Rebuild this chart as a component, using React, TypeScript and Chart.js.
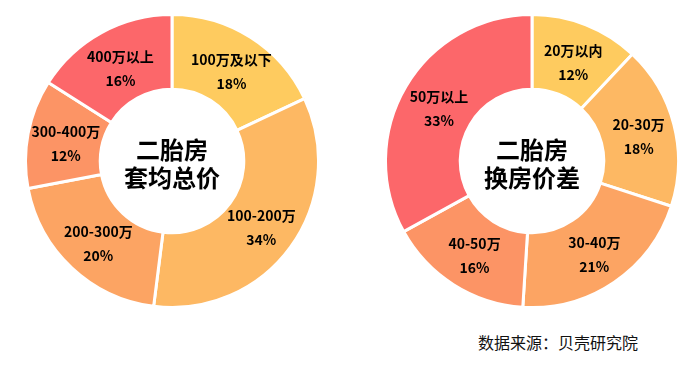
import React, { useEffect, useRef } from "react";
import { Chart, registerables } from "chart.js";

Chart.register(...registerables);

const leftCategories = ["100万及以下", "100-200万", "200-300万", "300-400万", "400万以上"];
const leftValues = [18, 34, 20, 12, 16];
const leftCenter = ["二胎房", "套均总价"];

const rightCategories = ["20万以内", "20-30万", "30-40万", "40-50万", "50万以上"];
const rightValues = [12, 18, 21, 16, 33];
const rightCenter = ["二胎房", "换房价差"];

const palette = ["#FECB5F", "#FDB863", "#FCA463", "#FC9465", "#FC676A"];
const sourceText = "数据来源：贝壳研究院";

const FONT = "'Noto Sans CJK SC', 'Noto Sans', sans-serif";

function makeLabelPlugin(center: string[]) {
  return {
    id: "donutLabels",
    afterDatasetsDraw(chart: any) {
      const ctx = chart.ctx;
      const meta = chart.getDatasetMeta(0);
      const labels = chart.data.labels as string[];
      const values = chart.data.datasets[0].data as number[];
      ctx.save();
      ctx.fillStyle = "#000";
      ctx.textAlign = "center";
      ctx.textBaseline = "middle";
      ctx.font = `bold 14px ${FONT}`;
      meta.data.forEach((arc: any, i: number) => {
        const p = arc.tooltipPosition();
        ctx.fillText(labels[i], p.x + 1, p.y - 9);
        ctx.fillText(values[i] + "%", p.x + 1, p.y + 15);
      });
      const a0 = meta.data[0];
      ctx.font = `bold 24px ${FONT}`;
      ctx.fillText(center[0], a0.x, a0.y - 11);
      ctx.fillText(center[1], a0.x, a0.y + 17);
      ctx.restore();
    },
  };
}

function Donut(props: { labels: string[]; values: number[]; center: string[]; left: number; top: number; size: number }) {
  const ref = useRef<HTMLCanvasElement | null>(null);
  useEffect(() => {
    if (!ref.current) return;
    const chart = new Chart(ref.current, {
      type: "doughnut",
      data: {
        labels: props.labels,
        datasets: [
          {
            data: props.values,
            backgroundColor: palette,
            borderColor: "#ffffff",
            borderWidth: 3,
          },
        ],
      },
      options: {
        responsive: false,
        maintainAspectRatio: false,
        animation: false,
        cutout: "49%",
        layout: { padding: 0 },
        plugins: {
          legend: { display: false },
          tooltip: { enabled: false },
        },
      },
      plugins: [makeLabelPlugin(props.center)],
    });
    return () => chart.destroy();
  }, []);
  return (
    <canvas
      ref={ref}
      width={props.size}
      height={props.size}
      style={{ position: "absolute", left: props.left, top: props.top, width: props.size, height: props.size }}
    />
  );
}

export default function App() {
  return (
    <div style={{ position: "fixed", left: 0, top: 0, width: 699, height: 365, background: "#fff", overflow: "hidden" }}>
      <Donut labels={leftCategories} values={leftValues} center={leftCenter} left={24} top={13} size={296} />
      <Donut labels={rightCategories} values={rightValues} center={rightCenter} left={384} top={13} size={296} />
      <div
        style={{
          position: "absolute",
          left: 478,
          top: 331,
          fontFamily: FONT,
          fontSize: 16,
          lineHeight: "22px",
          color: "#111",
          whiteSpace: "nowrap",
        }}
      >
        {sourceText}
      </div>
    </div>
  );
}
